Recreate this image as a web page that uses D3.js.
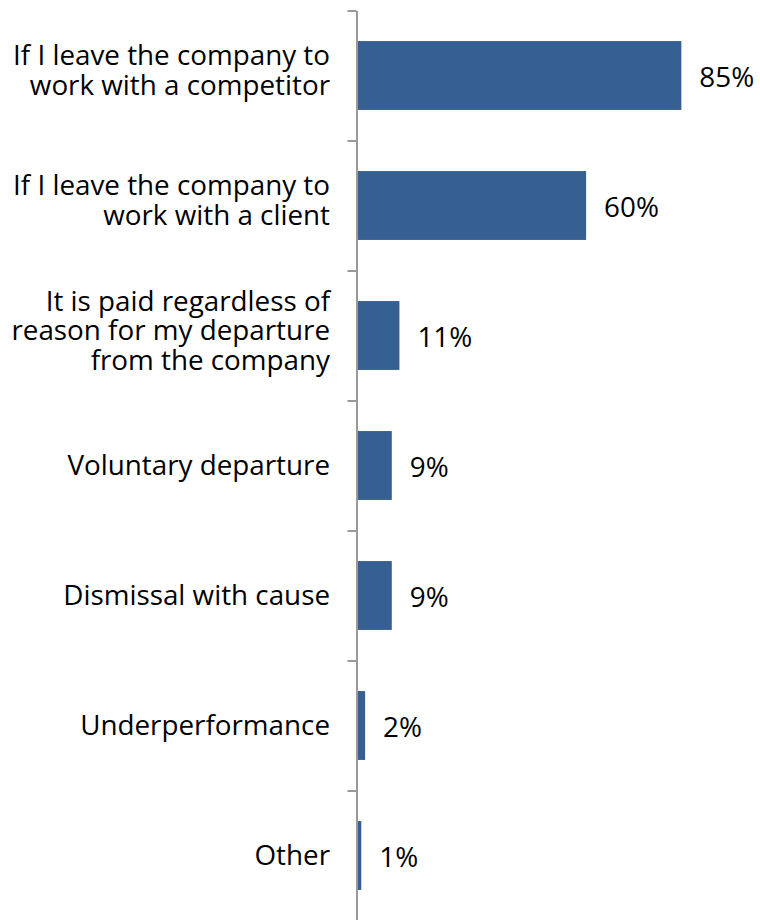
<!DOCTYPE html>
<html>
<head>
<meta charset="utf-8">
<script src="https://cdn.jsdelivr.net/npm/d3@7"></script>
<style>
  html, body { margin: 0; padding: 0; background: #fff; }
  svg { display: block; }
  text { font-family: "Open Sans", Lato, sans-serif; fill: #000; }
</style>
</head>
<body>
<svg id="chart" width="760" height="920"></svg>
<script>
// Categories, each split into the lines shown next to the axis
const categories = [
  ["If I leave the company to", "work with a competitor"],
  ["If I leave the company to", "work with a client"],
  ["It is paid regardless of", "reason for my departure", "from the company"],
  ["Voluntary departure"],
  ["Dismissal with cause"],
  ["Underperformance"],
  ["Other"]
];
const values = [85, 60, 11, 9, 9, 2, 1];
const valueLabels = ["85%", "60%", "11%", "9%", "9%", "2%", "1%"];

const svg = d3.select("#chart");
const axisX = 356.5;
const plotTop = 10.5, plotBottom = 920.5;
const fontSize = 27.8;
const lineHeight = 29.5;

const x = d3.scaleLinear().domain([0, 100]).range([axisX, axisX + 381]);
const idx = d3.range(categories.length);
const y = d3.scaleBand().domain(idx).range([plotTop, plotBottom])
  .paddingInner(0.47).paddingOuter(0.235);

// Bars
svg.append("g").selectAll("rect").data(idx).join("rect")
  .attr("x", x(0) + 1)
  .attr("y", i => y(i))
  .attr("width", i => x(values[i]) - x(0))
  .attr("height", y.bandwidth())
  .attr("fill", "#376092");

// Category axis with tick marks between categories
const boundary = d3.scaleLinear().domain([0, categories.length]).range([plotTop, plotBottom]);
const axis = svg.append("g")
  .attr("transform", `translate(${axisX},0)`)
  .call(d3.axisLeft(boundary).ticks(categories.length).tickFormat("").tickSize(9).tickSizeOuter(0));
axis.select(".domain").attr("stroke", "#999").attr("stroke-width", 2);
axis.selectAll(".tick line").attr("stroke", "#999").attr("stroke-width", 2);

// Category labels, right aligned against the axis
const labels = svg.append("g").selectAll("text").data(idx).join("text")
  .attr("text-anchor", "end")
  .attr("font-size", fontSize);
labels.each(function(i) {
  const lines = categories[i];
  const cy = y(i) + y.bandwidth() / 2;
  const shift = lines.length > 1 ? 4.5 : 9;
  d3.select(this).selectAll("tspan").data(lines).join("tspan")
    .attr("x", 330)
    .attr("y", (d, k) => cy + shift + (k - (lines.length - 1) / 2) * lineHeight)
    .text(d => d);
});

// Value labels at the end of each bar
svg.append("g").selectAll("text").data(idx).join("text")
  .attr("x", i => x(values[i]) + 19)
  .attr("y", i => y(i) + y.bandwidth() / 2 + 11)
  .attr("font-size", fontSize)
  .text(i => valueLabels[i]);
</script>
</body>
</html>
